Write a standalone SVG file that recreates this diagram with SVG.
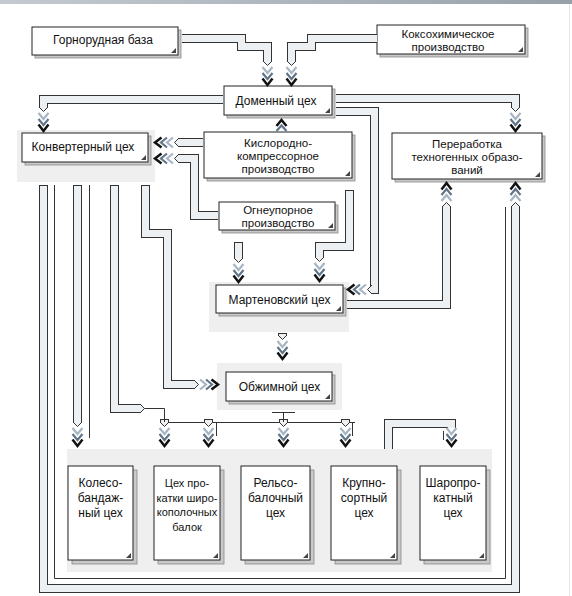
<svg xmlns="http://www.w3.org/2000/svg" xmlns:xlink="http://www.w3.org/1999/xlink" width="572" height="596" viewBox="0 0 572 596">
<style>
.bx{fill:#fff;stroke:#222;stroke-width:1}
.sh{fill:#c9c9c9;stroke:#8a8a8a;stroke-width:0.8}
.band{fill:#efefef}
.tO{fill:none;stroke:#333;stroke-width:9;stroke-linejoin:miter}
.tI{fill:none;stroke:#edf0f3;stroke-width:7;stroke-linejoin:miter}
.ln{fill:none;stroke:#333;stroke-width:1}
.cap{fill:none;stroke:#333;stroke-width:1}
.tp{fill:#edf0f3;stroke:#333;stroke-width:1}
.c1{fill:none;stroke:#a8b6c4;stroke-width:2.2}
.c2{fill:none;stroke:#62768a;stroke-width:2.2}
.c3{fill:none;stroke:#111;stroke-width:2.5}
.t{font-family:"Liberation Sans",Arial,sans-serif;font-size:12px;fill:#111;text-anchor:middle}
.m{font-size:11.5px}
.n{font-size:11px}
.tri{fill:#444}
</style>
<defs>
<linearGradient id="gb" x1="0" y1="0" x2="1" y2="0">
<stop offset="0" stop-color="#c4cad0"/><stop offset="1" stop-color="#98a1aa"/>
</linearGradient>
<g id="chev">
<polyline class="c1" points="-5,-18 0,-12 5,-18"/>
<polyline class="c2" points="-5,-12 0,-6 5,-12"/>
<polyline class="c3" points="-5,-6.5 0,0 5,-6.5"/>
</g>
<g id="aD">
<path class="tp" d="M-4.5,-24 L0,-19.5 L4.5,-24"/>
<use xlink:href="#chev"/>
</g>
<path id="p1" d="M182,38.5 H241.5 V46.5 H267.5 V61"/>
<path id="p2" d="M377,38.5 H311.5 V46.5 H291.5 V61"/>
<path id="p3" d="M223,99.5 H43.5 V107"/>
<path id="p4" d="M336,98.5 H515.5 V107"/>
<path id="p5" d="M336,111.5 H374.5 V289.5 H372"/>
<path id="p7" d="M203,142.5 H179"/>
<path id="p8" d="M218,215.5 H194.5 V158.5 H179"/>
<path id="p9" d="M238.5,242 V258"/>
<path id="p10" d="M349.5,190 V246.5 H319.5 V257"/>
<path id="p11" d="M282.5,333 V335"/>
<path id="p12" d="M347,304.5 H446.5 V207"/>
<path id="p13" d="M43.5,185 V588.5 H515.5 V207"/>
<path id="p14" d="M77.5,185 V422"/>
<path id="p15" d="M114.5,185 V408.5 H140"/>
<path id="p16" d="M145.5,185 V233.5 H167.5 V384.5 H194"/>
<path id="p17" d="M388.5,449 V423.5 H451.5 V428"/>
<path id="pb" d="M164.5,419 V422 M208.5,419 V422 M283.5,419 V422 M345.5,419 V422"/>
</defs>

<rect x="0" y="0" width="572" height="4" fill="url(#gb)"/>
<line x1="569.5" y1="4" x2="569.5" y2="596" stroke="#e4e4e4" stroke-width="1"/>

<g id="nodes">
<g id="n-gornorud">
<rect class="sh" x="35" y="30" width="146" height="28"/>
<rect class="bx" x="32" y="27" width="146" height="28"/>
<polygon class="tri" points="176,48 176,53 171,53"/>
<text class="t" x="103" y="44">Горнорудная база</text>
</g>
<g id="n-koks">
<rect class="sh" x="380" y="28" width="148" height="29"/>
<rect class="bx" x="377" y="25" width="148" height="29"/>
<polygon class="tri" points="523,47 523,52 518,52"/>
<text class="t m" x="448" y="37.5">Коксохимическое</text>
<text class="t m" x="448" y="50.5">производство</text>
</g>
<g id="n-domen">
<rect class="sh" x="227" y="89" width="108" height="29"/>
<rect class="bx" x="224" y="86" width="108" height="29"/>
<polygon class="tri" points="330,108 330,113 325,113"/>
<text class="t" x="276" y="105">Доменный цех</text>
</g>
<g id="n-konv">
<rect class="band" x="17" y="130" width="138" height="52"/>
<rect class="sh" x="25" y="136" width="126" height="29"/>
<rect class="bx" x="22" y="133" width="126" height="29"/>
<polygon class="tri" points="146,155 146,160 141,160"/>
<text class="t" x="83" y="151">Конвертерный цех</text>
</g>
<g id="n-kislor">
<rect class="sh" x="207" y="135" width="148" height="46"/>
<rect class="bx" x="204" y="132" width="148" height="46"/>
<polygon class="tri" points="350,171 350,176 345,176"/>
<text class="t m" x="278" y="146.5">Кислородно-</text>
<text class="t m" x="278" y="159.5">компрессорное</text>
<text class="t m" x="278" y="172.5">производство</text>
</g>
<g id="n-pererab">
<rect class="sh" x="395" y="136" width="150" height="46"/>
<rect class="bx" x="392" y="133" width="150" height="46"/>
<polygon class="tri" points="540,172 540,177 535,177"/>
<text class="t m" x="467" y="147.5">Переработка</text>
<text class="t m" x="467" y="160.5">техногенных образо-</text>
<text class="t m" x="467" y="173.5">ваний</text>
</g>
<g id="n-ogneup">
<rect class="sh" x="222" y="205" width="116" height="28"/>
<rect class="bx" x="219" y="202" width="116" height="28"/>
<polygon class="tri" points="333,223 333,228 328,228"/>
<text class="t m" x="278" y="213.5">Огнеупорное</text>
<text class="t m" x="278" y="226.5">производство</text>
</g>
<g id="n-marten">
<rect class="band" x="209" y="282" width="140" height="50"/>
<rect class="sh" x="219" y="288" width="127" height="28"/>
<rect class="bx" x="216" y="285" width="127" height="28"/>
<polygon class="tri" points="341,306 341,311 336,311"/>
<text class="t" x="279.5" y="303.5">Мартеновский цех</text>
</g>
<g id="n-obzhim">
<rect class="band" x="217" y="363" width="125" height="47"/>
<rect class="sh" x="229" y="375" width="106" height="29"/>
<rect class="bx" x="226" y="372" width="106" height="29"/>
<polygon class="tri" points="330,394 330,399 325,399"/>
<text class="t" x="279.5" y="391">Обжимной цех</text>
</g>
<g id="n-bottom-band">
<rect class="band" x="67" y="449" width="425" height="123"/>
</g>
<g id="n-koleso">
<rect class="sh" x="72" y="470" width="65" height="94"/>
<rect class="bx" x="68" y="466" width="65" height="94"/>
<polygon class="tri" points="131,553 131,558 126,558"/>
<text class="t" x="100.5" y="487">Колесо-</text>
<text class="t" x="100.5" y="502">бандаж-</text>
<text class="t" x="100.5" y="517">ный цех</text>
</g>
<g id="n-shirokopol">
<rect class="sh" x="158" y="470" width="66" height="94"/>
<rect class="bx" x="154" y="466" width="66" height="94"/>
<polygon class="tri" points="218,553 218,558 213,558"/>
<text class="t n" x="187" y="487">Цех про-</text>
<text class="t n" x="187" y="501.5">катки широ-</text>
<text class="t n" x="187" y="516">кополочных</text>
<text class="t n" x="187" y="530.5">балок</text>
</g>
<g id="n-relso">
<rect class="sh" x="245" y="470" width="69" height="94"/>
<rect class="bx" x="241" y="466" width="69" height="94"/>
<polygon class="tri" points="308,553 308,558 303,558"/>
<text class="t" x="275.5" y="487">Рельсо-</text>
<text class="t" x="275.5" y="502">балочный</text>
<text class="t" x="275.5" y="517">цех</text>
</g>
<g id="n-krupno">
<rect class="sh" x="335" y="470" width="66" height="94"/>
<rect class="bx" x="331" y="466" width="66" height="94"/>
<polygon class="tri" points="395,553 395,558 390,558"/>
<text class="t" x="364" y="487">Крупно-</text>
<text class="t" x="364" y="502">сортный</text>
<text class="t" x="364" y="517">цех</text>
</g>
<g id="n-sharo">
<rect class="sh" x="424" y="470" width="66" height="94"/>
<rect class="bx" x="420" y="466" width="66" height="94"/>
<polygon class="tri" points="484,553 484,558 479,558"/>
<text class="t" x="453" y="487">Шаропро-</text>
<text class="t" x="453" y="502">катный</text>
<text class="t" x="453" y="517">цех</text>
</g>
</g>

<g id="connectors">
<path class="ln" d="M54.5,185 V578.5 H505.5 V207"/>
<path class="ln" d="M89.5,185 V438"/>
<use xlink:href="#p1" class="tO"/><use xlink:href="#p1" class="tI"/>
<use xlink:href="#p2" class="tO"/><use xlink:href="#p2" class="tI"/>
<use xlink:href="#p3" class="tO"/><use xlink:href="#p3" class="tI"/>
<use xlink:href="#p4" class="tO"/><use xlink:href="#p4" class="tI"/>
<use xlink:href="#p5" class="tO"/><use xlink:href="#p5" class="tI"/>
<use xlink:href="#p7" class="tO"/><use xlink:href="#p7" class="tI"/>
<use xlink:href="#p8" class="tO"/><use xlink:href="#p8" class="tI"/>
<use xlink:href="#p9" class="tO"/><use xlink:href="#p9" class="tI"/>
<use xlink:href="#p10" class="tO"/><use xlink:href="#p10" class="tI"/>
<use xlink:href="#p11" class="tO"/><use xlink:href="#p11" class="tI"/>
<use xlink:href="#p12" class="tO"/><use xlink:href="#p12" class="tI"/>
<use xlink:href="#p13" class="tO"/><use xlink:href="#p13" class="tI"/>
<use xlink:href="#p14" class="tO"/><use xlink:href="#p14" class="tI"/>
<use xlink:href="#p15" class="tO"/><use xlink:href="#p15" class="tI"/>
<use xlink:href="#p16" class="tO"/><use xlink:href="#p16" class="tI"/>
<use xlink:href="#p17" class="tO"/><use xlink:href="#p17" class="tI"/>
<use xlink:href="#pb" class="tO"/><use xlink:href="#pb" class="tI"/>
<path class="cap" d="M39,185.5 H48 M73,185.5 H82 M110,185.5 H119 M141,185.5 H150 M345,190.5 H354 M234,242.5 H243 M278,333.5 H287 M160,419.5 H169 M204,419.5 H213 M279,419.5 H288 M341,419.5 H350"/>
<path class="tp" d="M140,404 L144.5,408.5 L140,413"/>
<path class="ln" d="M144.5,408.5 H164.5 V422.5 H355 M283.5,412.5 V422.5 M272,412.5 H295"/>
<path class="ln" d="M216.5,423 V436 M352.5,423 V436 M443.5,431 V440"/>
<use xlink:href="#aD" transform="translate(267.5,85)"/>
<use xlink:href="#aD" transform="translate(291.5,85)"/>
<use xlink:href="#aD" transform="translate(43.5,131)"/>
<use xlink:href="#aD" transform="translate(515.5,131)"/>
<use xlink:href="#aD" transform="translate(348,289.5) rotate(90)"/>
<use xlink:href="#aD" transform="translate(155,142.5) rotate(90)"/>
<use xlink:href="#aD" transform="translate(155,158.5) rotate(90)"/>
<use xlink:href="#aD" transform="translate(238.5,282)"/>
<use xlink:href="#aD" transform="translate(319.5,281)"/>
<use xlink:href="#aD" transform="translate(282.5,359)"/>
<use xlink:href="#aD" transform="translate(446.5,183) rotate(180)"/>
<use xlink:href="#aD" transform="translate(515.5,183) rotate(180)"/>
<use xlink:href="#aD" transform="translate(77.5,446)"/>
<use xlink:href="#aD" transform="translate(218,384.5) rotate(-90)"/>
<use xlink:href="#aD" transform="translate(164.5,446)"/>
<use xlink:href="#aD" transform="translate(208.5,446)"/>
<use xlink:href="#aD" transform="translate(283.5,446)"/>
<use xlink:href="#aD" transform="translate(345.5,446)"/>
<use xlink:href="#chev" transform="translate(451.5,446)"/>
<polyline class="c2" points="276.5,131 281.5,125.5 286.5,131"/>
<polyline class="c3" points="276.5,126 281.5,120 286.5,126"/>
</g>
</svg>
